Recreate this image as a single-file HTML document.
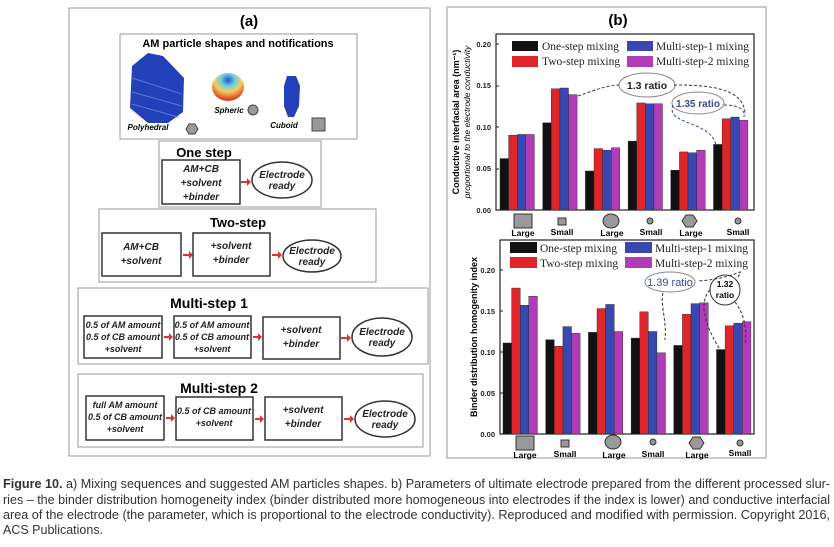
<!DOCTYPE html>
<html><head><meta charset="utf-8"><style>
html,body{margin:0;padding:0;background:#fff;}
svg{display:block;}
text{font-family:"Liberation Sans",Arial,sans-serif;}
.b{font-weight:bold;}
.i{font-style:italic;}
.ser{font-family:"Liberation Serif",serif;font-size:11.5px;fill:#222;}
.tk{font-size:7.5px;font-weight:bold;fill:#222;}
.bx{fill:#fff;stroke:#333;stroke-width:1.5;}
.fr{fill:#fff;stroke:#999;stroke-width:1;}
.bt{font-size:10px;font-style:italic;font-weight:bold;fill:#222;text-anchor:middle;}
.st{font-size:9px;font-style:italic;font-weight:bold;fill:#222;text-anchor:middle;}
.cap{font-family:"Liberation Sans Narrow","Liberation Sans",sans-serif;font-size:12.5px;fill:#333;}
</style></head><body>
<svg width="834" height="547" viewBox="0 0 834 547" xmlns="http://www.w3.org/2000/svg">
<defs>
<radialGradient id="sph" cx="50%" cy="25%" r="75%"><stop offset="0" stop-color="#2a4fd0"/><stop offset="0.3" stop-color="#6ad0e0"/><stop offset="0.55" stop-color="#f2d060"/><stop offset="1" stop-color="#d62a10"/></radialGradient>
</defs>
<rect x="69" y="8" width="361" height="448" fill="#fff" stroke="#999"/>
<text x="249" y="26" class="b" font-size="15" text-anchor="middle">(a)</text>
<rect x="120" y="34" width="237" height="105" class="fr" stroke="#888"/>
<text x="238" y="47" class="b" font-size="11" text-anchor="middle">AM particle shapes and notifications</text>
<path d="M132,66 L148,53 L163,56 L184,78 L183,112 L168,123 L148,123 L130,108 Z" fill="#2240b8"/>
<path d="M132,78 L182,94 M132,92 L182,106 M132,104 L178,117" stroke="#5a75d8" stroke-width="1"/>
<text x="148" y="130" class="b i" font-size="8" text-anchor="middle">Polyhedral</text>
<polygon points="189,124 195,124 198,129 195,134 189,134 186,129" fill="#999" stroke="#444"/>
<ellipse cx="228" cy="87" rx="16" ry="14" fill="url(#sph)"/>
<text x="229" y="113" class="b i" font-size="8" text-anchor="middle">Spheric</text>
<circle cx="253" cy="110" r="5" fill="#999" stroke="#444"/>
<polygon points="287,76 296,76 300,86 299,106 294,117 288,117 284,106 284,86" fill="#2240b8"/>
<text x="284" y="128" class="b i" font-size="8" text-anchor="middle">Cuboid</text>
<rect x="312" y="118" width="13" height="13" fill="#999" stroke="#444"/>
<rect x="159" y="141" width="162" height="66" class="fr" stroke="#888"/>
<text x="204" y="157" class="b" font-size="13" text-anchor="middle">One step</text>
<rect x="162" y="160" width="78" height="44" class="bx"/>
<text x="201" y="172" class="bt">AM+CB</text><text x="201" y="186" class="bt">+solvent</text><text x="201" y="200" class="bt">+binder</text>
<path d="M241,181 L247,181 L247,178 L251,182 L247,186 L247,183 L241,183z" fill="#d33"/>
<ellipse cx="282" cy="180" rx="30" ry="18" class="bx"/>
<text x="282" y="178" class="bt">Electrode</text><text x="282" y="189" class="bt">ready</text>
<rect x="99" y="209" width="277" height="73" class="fr" stroke="#888"/>
<text x="238" y="227" class="b" font-size="13" text-anchor="middle">Two-step</text>
<rect x="102" y="233" width="79" height="43" class="bx"/>
<text x="141" y="250" class="bt">AM+CB</text><text x="141" y="264" class="bt">+solvent</text>
<path d="M183,254 L189,254 L189,251 L193,255 L189,259 L189,256 L183,256z" fill="#d33"/>
<rect x="193" y="233" width="77" height="43" class="bx"/>
<text x="231" y="249" class="bt">+solvent</text><text x="231" y="263" class="bt">+binder</text>
<path d="M272,254 L278,254 L278,251 L282,255 L278,259 L278,256 L272,256z" fill="#d33"/>
<ellipse cx="312" cy="256" rx="29" ry="16" class="bx"/>
<text x="312" y="254" class="bt">Electrode</text><text x="312" y="265" class="bt">ready</text>
<rect x="78" y="288" width="350" height="76" class="fr" stroke="#888"/>
<text x="209" y="308" class="b" font-size="14" text-anchor="middle">Multi-step 1</text>
<rect x="84" y="316" width="78" height="42" class="bx"/>
<text x="123" y="328" class="st">0.5 of AM amount</text><text x="123" y="340" class="st">0.5 of CB amount</text><text x="123" y="352" class="st">+solvent</text>
<path d="M164,336 L169,336 L169,333 L173,337 L169,341 L169,338 L164,338z" fill="#d33"/>
<rect x="174" y="316" width="77" height="42" class="bx"/>
<text x="212" y="328" class="st">0.5 of AM amount</text><text x="212" y="340" class="st">0.5 of CB amount</text><text x="212" y="352" class="st">+solvent</text>
<path d="M253,336 L258,336 L258,333 L262,337 L258,341 L258,338 L253,338z" fill="#d33"/>
<rect x="263" y="317" width="77" height="42" class="bx"/>
<text x="301" y="333" class="bt">+solvent</text><text x="301" y="347" class="bt">+binder</text>
<path d="M341,337 L347,337 L347,334 L351,338 L347,342 L347,339 L341,339z" fill="#d33"/>
<ellipse cx="382" cy="337" rx="30" ry="19" class="bx"/>
<text x="382" y="335" class="bt">Electrode</text><text x="382" y="346" class="bt">ready</text>
<rect x="78" y="374" width="345" height="73" class="fr" stroke="#888"/>
<text x="219" y="393" class="b" font-size="14" text-anchor="middle">Multi-step 2</text>
<rect x="86" y="396" width="78" height="44" class="bx"/>
<text x="125" y="408" class="st">full AM amount</text><text x="125" y="420" class="st">0.5 of CB amount</text><text x="125" y="432" class="st">+solvent</text>
<path d="M166,417 L171,417 L171,414 L175,418 L171,422 L171,419 L166,419z" fill="#d33"/>
<rect x="176" y="397" width="77" height="43" class="bx"/>
<text x="214" y="414" class="st">0.5 of CB amount</text><text x="214" y="426" class="st">+solvent</text>
<path d="M255,418 L260,418 L260,415 L264,419 L260,423 L260,420 L255,420z" fill="#d33"/>
<rect x="265" y="397" width="77" height="43" class="bx"/>
<text x="303" y="413" class="bt">+solvent</text><text x="303" y="427" class="bt">+binder</text>
<path d="M344,418 L350,418 L350,415 L354,419 L350,423 L350,420 L344,420z" fill="#d33"/>
<ellipse cx="385" cy="419" rx="30" ry="18" class="bx"/>
<text x="385" y="417" class="bt">Electrode</text><text x="385" y="428" class="bt">ready</text>

<rect x="447" y="7" width="319" height="451" fill="#fff" stroke="#999"/>
<text x="618" y="25" class="b" font-size="15" text-anchor="middle">(b)</text>
<rect x="496" y="34" width="258" height="176" fill="none" stroke="#222" stroke-width="1.2"/>
<g class="tk" text-anchor="end">
<text x="491" y="47">0.20</text><text x="491" y="88">0.15</text><text x="491" y="130">0.10</text><text x="491" y="171">0.05</text><text x="491" y="213">0.00</text>
</g>
<path d="M496,44h3M496,86h3M496,127h3M496,169h3" stroke="#222"/>
<text transform="translate(459,122) rotate(-90)" class="b" font-size="9" text-anchor="middle">Conductive interfacial area (nm⁻¹)</text>
<text transform="translate(470,122) rotate(-90)" class="i" font-size="8.5" text-anchor="middle">proportional to the electrode conductivity</text>
<g id="bars1"></g>
<rect x="500" y="240" width="254" height="194" fill="none" stroke="#222" stroke-width="1.2"/>
<g class="tk" text-anchor="end">
<text x="495" y="273">0.20</text><text x="495" y="314">0.15</text><text x="495" y="355">0.10</text><text x="495" y="396">0.05</text><text x="495" y="437">0.00</text>
</g>
<path d="M500,270h3M500,311h3M500,352h3M500,393h3" stroke="#222"/>
<text transform="translate(477,337) rotate(-90)" class="b" font-size="9" text-anchor="middle">Binder distribution homogenity index</text>
<g id="bars2"></g>
<script>
(function(){
var ns="http://www.w3.org/2000/svg";
var cols=["#111","#e0252a","#3848b0","#b03cb8"];
var d1=[[.062,.090,.091,.091],[.105,.146,.147,.139],[.047,.074,.072,.075],[.083,.129,.128,.128],[.048,.070,.069,.072],[.079,.110,.112,.108]];
var d2=[[.111,.178,.157,.168],[.115,.107,.131,.123],[.124,.153,.158,.125],[.117,.149,.125,.099],[.108,.146,.159,.160],[.103,.132,.135,.137]];
function draw(id,d,x0,y0,s){var g=document.getElementById(id);
for(var i=0;i<6;i++)for(var j=0;j<4;j++){var r=document.createElementNS(ns,"rect");var h=d[i][j]*s;
r.setAttribute("x",x0+i*42.7+j*8.6);r.setAttribute("y",y0-h);r.setAttribute("width",8.6);r.setAttribute("height",h);r.setAttribute("fill",cols[j]);r.setAttribute("stroke","#222");r.setAttribute("stroke-width","0.4");g.appendChild(r);}}
draw("bars1",d1,500,210,830);draw("bars2",d2,503,434,820);
})();
</script>
<g>
<rect x="512" y="41" width="26" height="10" fill="#111"/><text x="542" y="50" class="ser">One-step mixing</text>
<rect x="512" y="56" width="26" height="11" fill="#e0252a"/><text x="542" y="65" class="ser">Two-step mixing</text>
<rect x="627" y="41" width="26" height="10" fill="#3848b0"/><text x="656" y="50" class="ser">Multi-step-1 mixing</text>
<rect x="627" y="56" width="26" height="11" fill="#b03cb8"/><text x="656" y="65" class="ser">Multi-step-2 mixing</text>
<rect x="510" y="242" width="27" height="11" fill="#111"/><text x="540" y="252" class="ser">One-step mixing</text>
<rect x="510" y="257" width="27" height="11" fill="#e0252a"/><text x="540" y="267" class="ser">Two-step mixing</text>
<rect x="625" y="242" width="27" height="11" fill="#3848b0"/><text x="655" y="252" class="ser">Multi-step-1 mixing</text>
<rect x="625" y="257" width="27" height="11" fill="#b03cb8"/><text x="655" y="267" class="ser">Multi-step-2 mixing</text>
</g>
<ellipse cx="647" cy="85" rx="28" ry="12" fill="none" stroke="#888"/>
<text x="647" y="89" class="b" font-size="10.5" text-anchor="middle" fill="#222">1.3 ratio</text>
<path d="M578,96 C600,88 610,85 620,85" fill="none" stroke="#333" stroke-dasharray="3,2"/>
<path d="M674,85 C710,85 745,88 745,115" fill="none" stroke="#333" stroke-dasharray="3,2"/>
<ellipse cx="698" cy="103" rx="26" ry="11" fill="none" stroke="#888"/>
<text x="698" y="107" class="b" font-size="10" text-anchor="middle" fill="#3848a0">1.35 ratio</text>
<path d="M724,105 C740,105 745,110 744,117" fill="none" stroke="#3848a0" stroke-dasharray="3,2"/>
<path d="M673,105 C665,125 710,120 716,145" fill="none" stroke="#3848a0" stroke-dasharray="3,2"/>
<ellipse cx="670" cy="282" rx="25" ry="10" fill="none" stroke="#888"/>
<text x="670" y="286" font-size="11" text-anchor="middle" fill="#3848a0">1.39  ratio</text>
<path d="M663,293 C660,305 667,320 665,340" fill="none" stroke="#333" stroke-dasharray="3,2"/>
<circle cx="725" cy="290" r="15" fill="none" stroke="#333"/>
<text x="725" y="287" class="b" font-size="8.5" text-anchor="middle">1.32</text>
<text x="725" y="298" class="b" font-size="8.5" text-anchor="middle">ratio</text>
<path d="M710,290 C700,300 702,320 719,348" fill="none" stroke="#333" stroke-dasharray="3,2"/>
<path d="M735,302 C745,315 747,330 745,345" fill="none" stroke="#333" stroke-dasharray="3,2"/>
<path d="M738,277 C745,265 740,278 698,281" fill="none" stroke="#333" stroke-dasharray="3,2"/>
<g fill="#999" stroke="#333">
<rect x="514" y="214" width="18" height="14"/><rect x="558" y="218" width="8" height="7"/>
<ellipse cx="611" cy="221" rx="8" ry="7"/><circle cx="650" cy="221" r="3"/>
<polygon points="686,215 693,215 697,221 693,227 686,227 682,221"/><circle cx="738" cy="221" r="3"/>
<rect x="516" y="436" width="18" height="14"/><rect x="561" y="440" width="8" height="7"/>
<ellipse cx="613" cy="442" rx="8" ry="7"/><circle cx="653" cy="442" r="3"/>
<polygon points="693,437 700,437 704,443 700,449 693,449 689,443"/><circle cx="740" cy="443" r="3"/>
</g>
<g class="b" font-size="8.5" text-anchor="middle">
<text x="523" y="236">Large</text><text x="562" y="235">Small</text><text x="612" y="236">Large</text><text x="651" y="235">Small</text><text x="691" y="236">Large</text><text x="738" y="235">Small</text>
<text x="525" y="458">Large</text><text x="565" y="457">Small</text><text x="614" y="458">Large</text><text x="653" y="457">Small</text><text x="697" y="458">Large</text><text x="740" y="456">Small</text>
</g>
<text x="3" y="488" class="cap" textLength="827" lengthAdjust="spacingAndGlyphs"><tspan font-weight="bold">Figure 10.</tspan> a) Mixing sequences and suggested AM particles shapes. b) Parameters of ultimate electrode prepared from the different processed slur-</text>
<text x="3" y="504" class="cap" textLength="827" lengthAdjust="spacingAndGlyphs">ries – the binder distribution homogeneity index (binder distributed more homogeneous into electrodes if the index is lower) and conductive interfacial</text>
<text x="3" y="519" class="cap" textLength="827" lengthAdjust="spacingAndGlyphs">area of the electrode (the parameter, which is proportional to the electrode conductivity). Reproduced and modified with permission. Copyright 2016,</text>
<text x="3" y="534" class="cap">ACS Publications.</text>
</svg>
</body></html>
